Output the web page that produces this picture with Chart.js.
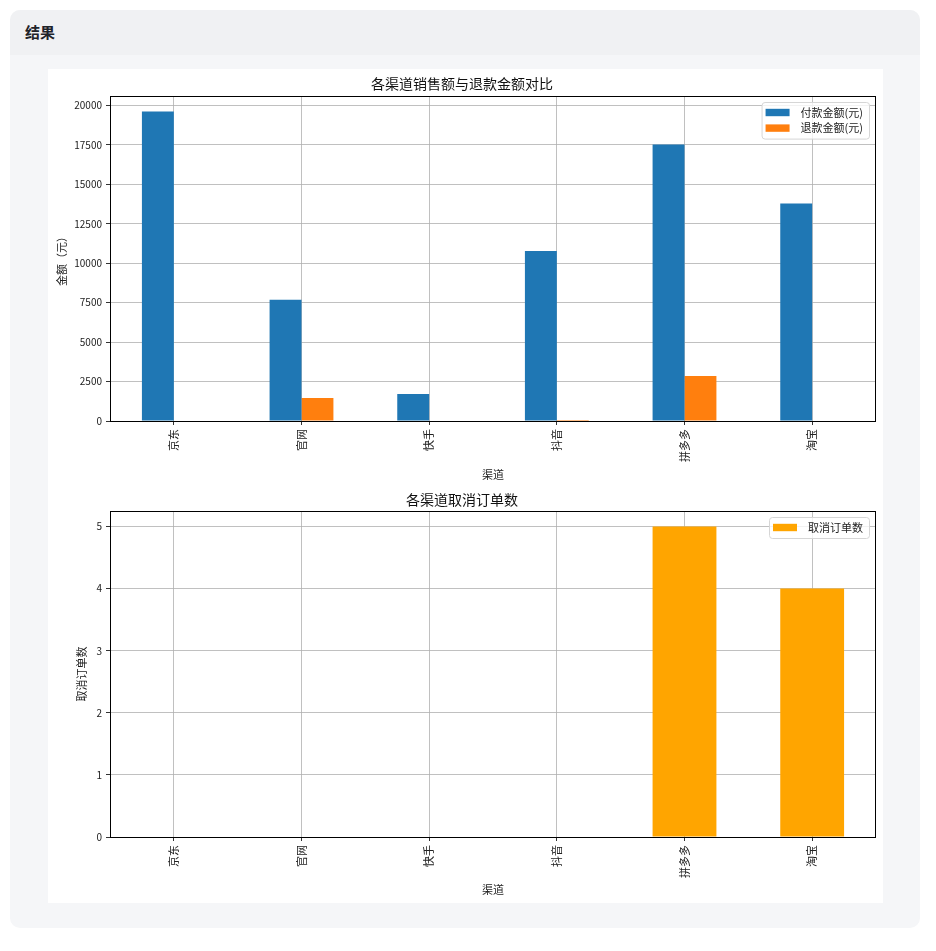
<!DOCTYPE html>
<html>
<head>
<meta charset="utf-8">
<script src="https://cdn.jsdelivr.net/npm/chart.js@4/dist/chart.umd.min.js"></script>
<style>
  body { margin: 0; background: #fff; font-family: "Noto Sans CJK SC", sans-serif; }
  .card { position: absolute; left: 10px; top: 10px; width: 910px; height: 918px;
          border-radius: 10px; background: #f5f6f8; overflow: hidden; }
  .head { height: 45px; background: #f0f1f3; }
  .head span { position: absolute; left: 15px; top: 11px; font-size: 15px; font-weight: bold; color: #1f2329; }
  .panel { position: absolute; left: 38px; top: 59px; width: 835px; height: 834px; background: #fff; }
  canvas { position: absolute; left: 0; }
</style>
</head>
<body>
<div class="card">
  <div class="head"><span>结果</span></div>
  <div class="panel">
    <canvas id="chartMontant" width="835" height="417" style="top:0"></canvas>
    <canvas id="chartAnnul" width="835" height="417" style="top:417px"></canvas>
  </div>
</div>
<script>
// données
const canaux = ['京东', '官网', '快手', '抖音', '拼多多', '淘宝'];
const montantPaye = [19620, 7680, 1710, 10780, 17530, 13780];
const montantRembourse = [0, 1450, 0, 60, 2850, 0];
const commandesAnnulees = [0, 0, 0, 0, 5, 4];

const police = '"Noto Sans CJK SC", sans-serif';

// cadre noir + légende façon matplotlib
const cadreLegende = {
  id: 'cadreLegende',
  afterDraw(chart) {
    const ctx = chart.ctx;
    const a = chart.chartArea;
    ctx.save();
    ctx.strokeStyle = '#000';
    ctx.lineWidth = 1;
    ctx.strokeRect(Math.round(a.left) + 0.5, Math.round(a.top) + 0.5,
                   Math.round(a.right - a.left) - 1, Math.round(a.bottom - a.top));

    // légende en haut à droite
    const items = chart.data.datasets;
    ctx.font = '11px ' + police;
    let textW = 0;
    items.forEach(d => { textW = Math.max(textW, ctx.measureText(d.label).width); });
    const w = 4 + 24 + 11 + textW + 6;
    const h = 21 + (items.length - 1) * 15.6;
    const x = a.right - 7 - w;
    const y = a.top + 6;
    ctx.beginPath();
    ctx.roundRect(x + 0.5, y + 0.5, w, h, 3);
    ctx.fillStyle = 'rgba(255,255,255,0.8)';
    ctx.fill();
    ctx.strokeStyle = '#d6d6d6';
    ctx.stroke();
    items.forEach((d, i) => {
      const cy = y + 10.5 + i * 15.6;
      ctx.fillStyle = d.backgroundColor;
      ctx.fillRect(x + 4, cy - 3.7, 24, 7.4);
      ctx.fillStyle = '#222';
      ctx.textBaseline = 'middle';
      ctx.fillText(d.label, x + 39, cy);
    });
    ctx.restore();
  }
};

function options(titre, titreY, padTitre, yMax, pas, padTitreY, padTitreX, hautX) {
  return {
    responsive: false,
    animation: false,
    devicePixelRatio: 1,
    layout: { padding: { left: 0, right: 7, top: 0, bottom: 0 } },
    plugins: {
      legend: { display: false },
      tooltip: { enabled: false },
      title: {
        display: true,
        text: titre,
        color: '#111',
        font: { family: police, size: 14, weight: 'normal', lineHeight: 1.2 },
        padding: padTitre
      }
    },
    scales: {
      x: {
        z: 1,
        offset: true,
        grid: { offset: false, color: '#b0b0b0', lineWidth: 0.8, tickLength: 4, tickColor: '#333', tickWidth: 1 },
        border: { display: false },
        ticks: { autoSkip: false, minRotation: 90, maxRotation: 90, padding: 4, color: '#222',
                 font: { family: police, size: 11 } },
        title: { display: true, text: '渠道', color: '#222', padding: { top: 0, bottom: padTitreX },
                 font: { family: police, size: 11, lineHeight: 1.2 } },
        afterFit(scale) { scale.height = hautX; }
      },
      y: {
        z: 1,
        min: 0,
        max: yMax,
        grid: { color: '#b0b0b0', lineWidth: 0.8, tickLength: 4, tickColor: '#333', tickWidth: 1 },
        border: { display: false },
        ticks: { padding: 4, color: '#222', font: { family: police, size: 10 },
                 callback: v => String(v) },
        afterBuildTicks(scale) {
          // graduations tous les "pas", comme matplotlib
          const ticks = [];
          for (let v = 0; v <= scale.max; v += pas) ticks.push({ value: v });
          scale.ticks = ticks;
        },
        title: { display: true, text: titreY, color: '#222', padding: { top: padTitreY, bottom: 0 },
                 font: { family: police, size: 11, lineHeight: 1.2 } },
        afterFit(scale) { scale.width = 62; }
      }
    }
  };
}

// graphique 1 : montants
new Chart(document.getElementById('chartMontant'), {
  type: 'bar',
  data: {
    labels: canaux,
    datasets: [
      { label: '付款金额(元)', data: montantPaye, backgroundColor: '#1f77b4',
        categoryPercentage: 0.5, barPercentage: 1.0 },
      { label: '退款金额(元)', data: montantRembourse, backgroundColor: '#ff7f0e',
        categoryPercentage: 0.5, barPercentage: 1.0 }
    ]
  },
  options: options('各渠道销售额与退款金额对比', '金额（元）', { top: 6.6, bottom: 3.6 },
                   Math.round(Math.max(...montantPaye) * 1.05), 2500, 7.1, 4.4, 65),
  plugins: [cadreLegende]
});

// graphique 2 : commandes annulées
new Chart(document.getElementById('chartAnnul'), {
  type: 'bar',
  data: {
    labels: canaux,
    datasets: [
      { label: '取消订单数', data: commandesAnnulees, backgroundColor: '#ffa500',
        categoryPercentage: 0.5, barPercentage: 1.0 }
    ]
  },
  options: options('各渠道取消订单数', '取消订单数', { top: 5.6, bottom: 2.6 },
                   Math.max(...commandesAnnulees) * 1.05, 1, 27.4, 6.4, 66),
  plugins: [cadreLegende]
});
</script>
</body>
</html>
